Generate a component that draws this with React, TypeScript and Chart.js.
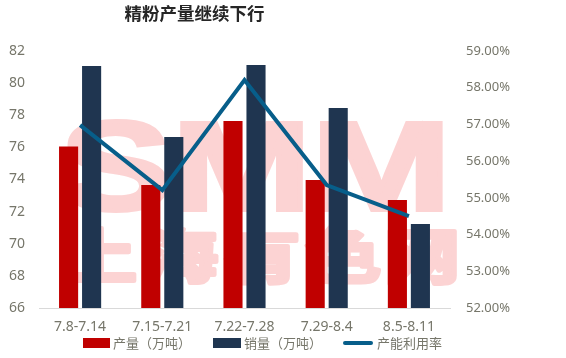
import React, { useEffect, useRef } from "react";
import { Chart, registerables } from "chart.js";

Chart.register(...registerables);

const categories = ["7.8-7.14", "7.15-7.21", "7.22-7.28", "7.29-8.4", "8.5-8.11"];
const production = [76.05, 73.66, 77.64, 73.97, 72.72];
const sales = [81.07, 76.65, 81.13, 78.45, 71.23];
const utilization = [56.98, 55.21, 58.21, 55.35, 54.5];
const leftTicks = [66, 68, 70, 72, 74, 76, 78, 80, 82];
const rightTicks = [52, 53, 54, 55, 56, 57, 58, 59];

const titleText = "精粉产量继续下行";
const legendLabels = ["产量（万吨）", "销量（万吨）", "产能利用率"];
const watermarkLatin = "SMM";
const watermarkChars = ["上", "海", "有", "色", "网"];

const RED = "#c00000";
const NAVY = "#1f3550";
const BLUE = "#075e8a";
const TXT = "#76766a";
const WM = "#fcd3d3";
const FONT = "'Noto Sans', 'Noto Sans CJK SC', sans-serif";

export default function App() {
  const ref = useRef<HTMLCanvasElement>(null);
  useEffect(() => {
    if (!ref.current) return;
    const decor = {
      id: "decor",
      beforeDatasetsDraw(chart: any) {
        const ctx = chart.ctx;
        ctx.save();
        ctx.fillStyle = WM;
        ctx.strokeStyle = WM;
        ctx.lineJoin = "miter";
        ctx.textBaseline = "alphabetic";
        ctx.font = "bold 126px 'Liberation Sans', sans-serif";
        const w = ctx.measureText(watermarkLatin).width;
        ctx.translate(60, 210);
        ctx.scale(391 / w, 1);
        ctx.lineWidth = 4;
        ctx.fillText(watermarkLatin, 0, 0);
        ctx.strokeText(watermarkLatin, 0, 0);
        ctx.restore();
        ctx.save();
        ctx.fillStyle = WM;
        ctx.strokeStyle = WM;
        ctx.lineWidth = 5;
        ctx.lineJoin = "round";
        ctx.font = "bold 76px 'Noto Sans CJK SC', sans-serif";
        ctx.textAlign = "center";
        ctx.textBaseline = "middle";
        const xs = [99, 180, 262, 343, 422];
        watermarkChars.forEach((c, i) => {
          ctx.save();
          ctx.translate(xs[i], 255);
          ctx.scale(1, 0.78);
          ctx.fillText(c, 0, 0);
          ctx.strokeText(c, 0, 0);
          ctx.restore();
        });
        ctx.restore();
      },
      afterDraw(chart: any) {
        const ctx = chart.ctx;
        ctx.save();
        ctx.fillStyle = "#262626";
        ctx.font = "bold 17.5px 'Noto Sans CJK SC', sans-serif";
        ctx.textAlign = "center";
        ctx.textBaseline = "middle";
        ctx.fillText(titleText, 194.5, 13.5);
        // legend
        ctx.font = "13px 'Noto Sans CJK SC', sans-serif";
        ctx.textAlign = "left";
        ctx.fillStyle = RED;
        ctx.fillRect(83, 338, 27, 10);
        ctx.fillStyle = NAVY;
        ctx.fillRect(213, 338, 28, 10);
        ctx.strokeStyle = BLUE;
        ctx.lineWidth = 4;
        ctx.lineCap = "round";
        ctx.beginPath();
        ctx.moveTo(345, 343);
        ctx.lineTo(371, 343);
        ctx.stroke();
        ctx.fillStyle = TXT;
        ctx.fillText(legendLabels[0], 113, 343);
        ctx.fillText(legendLabels[1], 244, 343);
        ctx.fillText(legendLabels[2], 377, 343);
        ctx.restore();
      },
    };
    const chart = new Chart(ref.current, {
      type: "bar",
      data: {
        labels: categories,
        datasets: [
          {
            type: "line",
            label: legendLabels[2],
            data: utilization,
            yAxisID: "y2",
            borderColor: BLUE,
            backgroundColor: BLUE,
            borderWidth: 4,
            pointRadius: 0,
            tension: 0,
            order: 0,
          } as any,
          {
            label: legendLabels[0],
            data: production,
            backgroundColor: RED,
            yAxisID: "y",
            categoryPercentage: 0.56,
            barPercentage: 0.83,
            order: 1,
          },
          {
            label: legendLabels[1],
            data: sales,
            backgroundColor: NAVY,
            yAxisID: "y",
            categoryPercentage: 0.56,
            barPercentage: 0.83,
            order: 1,
          },
        ],
      },
      options: {
        animation: false,
        responsive: false,
        devicePixelRatio: 1,
        layout: { padding: { top: 51, bottom: 0, left: 0, right: 0 } },
        plugins: { legend: { display: false }, title: { display: false }, tooltip: { enabled: false } },
        scales: {
          x: {
            grid: { display: false, drawTicks: false },
            border: { display: true, color: "#d9d9d9", width: 1 },
            ticks: { color: TXT, font: { family: FONT, size: 14 }, padding: 11, maxRotation: 0, autoSkip: false },
            afterFit(s: any) { s.height = 50; },
          },
          y: {
            position: "left",
            min: 66,
            max: 82,
            afterBuildTicks(s: any) { s.ticks = leftTicks.map((v) => ({ value: v })); },
            grid: { display: false, drawTicks: false },
            border: { display: false },
            ticks: { color: TXT, font: { family: FONT, size: 14 }, padding: 14 },
            afterFit(s: any) { s.width = 39; },
          },
          y2: {
            position: "right",
            min: 52,
            max: 59,
            afterBuildTicks(s: any) { s.ticks = rightTicks.map((v) => ({ value: v })); },
            grid: { display: false, drawTicks: false },
            border: { display: false },
            ticks: {
              color: TXT,
              font: { family: FONT, size: 13 },
              padding: 16,
              callback: (v: any) => Number(v).toFixed(2) + "%",
            },
            afterFit(s: any) { s.width = 116; },
          },
        },
      },
      plugins: [decor],
    });
    return () => chart.destroy();
  }, []);
  return (
    <div style={{ position: "fixed", left: 0, top: 0, width: 566, height: 358, background: "#fff" }}>
      <canvas ref={ref} width={566} height={358} style={{ width: 566, height: 358, display: "block" }} />
    </div>
  );
}
